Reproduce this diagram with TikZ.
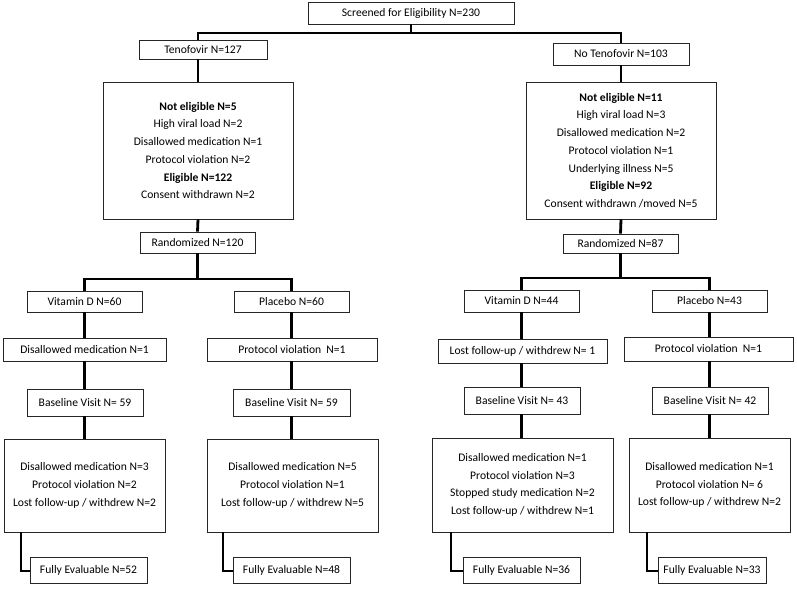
\documentclass[tikz,border=0pt]{standalone}
\usepackage{fontspec}
\setmainfont{Carlito}
\usetikzlibrary{shadows}
\begin{document}
\begin{tikzpicture}[x=1pt,y=-1pt,
  bx/.style={draw=black!85, line width=0.7pt, fill=white, inner sep=0pt, align=center,
    font=\fontsize{11.6}{17.7}\selectfont,
    drop shadow={shadow xshift=1.2pt, shadow yshift=-1.2pt, opacity=0.35, fill=black!50}},
  conn/.style={line width=2.8pt, black, line cap=butt}]
\useasboundingbox (0,0) rectangle (797,589);
% top
\node[bx, minimum width=206, minimum height=22] (scr) at (411,13) {Screened for Eligibility N=230};
\node[bx, minimum width=128, minimum height=19] (ten) at (203,49.5) {Tenofovir N=127};
\node[bx, minimum width=136, minimum height=22] (noten) at (621,54) {No Tenofovir N=103};
\node[bx, minimum width=190, minimum height=137] (bigl) at (198,150.5) {\textbf{Not eligible N=5}\\High viral load N=2\\Disallowed medication N=1\\Protocol violation N=2\\\textbf{Eligible N=122}\\Consent withdrawn N=2};
\node[bx, minimum width=190, minimum height=137] (bigr) at (621,150.5) {\textbf{Not eligible N=11}\\High viral load N=3\\Disallowed medication N=2\\Protocol violation N=1\\Underlying illness N=5\\\textbf{Eligible N=92}\\Consent withdrawn /moved N=5};
\node[bx, minimum width=115, minimum height=21] (randl) at (197.5,242.5) {Randomized N=120};
\node[bx, minimum width=115, minimum height=19] (randr) at (620.5,243.5) {Randomized N=87};
% left arms
\node[bx, minimum width=115, minimum height=21] (vdl) at (84.5,301.5) {Vitamin D N=60};
\node[bx, minimum width=115, minimum height=21] (pll) at (291.5,301.5) {Placebo N=60};
\node[bx, minimum width=163, minimum height=23] (disl) at (84.5,349.5) {Disallowed medication N=1};
\node[bx, minimum width=170, minimum height=23] (pvl) at (292,349.5) {Protocol violation\ \ N=1};
\node[bx, minimum width=116, minimum height=27] (bll) at (85,402.5) {Baseline Visit N= 59};
\node[bx, minimum width=117, minimum height=27] (bll2) at (291.5,402.5) {Baseline Visit N= 59};
\node[bx, minimum width=161, minimum height=93] (botl) at (84.5,485.5) {Disallowed medication N=3\\Protocol violation N=2\\Lost follow-up / withdrew N=2};
\node[bx, minimum width=171, minimum height=93] (botl2) at (292.5,485.5) {Disallowed medication N=5\\Protocol violation N=1\\Lost follow-up / withdrew N=5};
\node[bx, minimum width=117, minimum height=26] (fel) at (88.5,570) {Fully Evaluable N=52};
\node[bx, minimum width=117, minimum height=26] (fel2) at (291.5,570) {Fully Evaluable N=48};
% right arms
\node[bx, minimum width=115, minimum height=22] (vdr) at (521.5,301) {Vitamin D N=44};
\node[bx, minimum width=115, minimum height=22] (plr) at (709.5,301) {Placebo N=43};
\node[bx, minimum width=169, minimum height=24] (lostr) at (522.5,351) {Lost follow-up / withdrew N= 1};
\node[bx, minimum width=169, minimum height=24] (pvr) at (708.5,349) {Protocol violation\ \ N=1};
\node[bx, minimum width=116, minimum height=27] (blr) at (522,400.5) {Baseline Visit N= 43};
\node[bx, minimum width=116, minimum height=27] (blr2) at (710,400.5) {Baseline Visit N= 42};
\node[bx, minimum width=181, minimum height=94] (botr) at (522.5,485) {Disallowed medication N=1\\Protocol violation N=3\\Stopped study medication N=2\\Lost follow-up / withdrew N=1};
\node[bx, minimum width=161, minimum height=94] (botr2) at (709.5,485) {Disallowed medication N=1\\Protocol violation N= 6\\Lost follow-up / withdrew N=2};
\node[bx, minimum width=117, minimum height=26] (fer) at (521.5,570) {Fully Evaluable N=36};
\node[bx, minimum width=108, minimum height=26] (fer2) at (712,570) {Fully Evaluable N=33};
% junction coordinates
\coordinate (jtop) at (411,33);
\coordinate (jl) at (197.5,279);
\coordinate (jr) at (620.5,278);
\coordinate (xl) at (198,0);
\coordinate (cl1) at (21,571);
\coordinate (cl2) at (223,571);
\coordinate (cr1) at (451,571);
\coordinate (cr2) at (647,571);
% connectors
\draw[conn] (scr.south) -- (jtop);
\draw[conn] (ten.north -| xl) |- (jtop) -| (noten.north);
\draw[conn] (ten.south -| xl) -- (bigl.north);
\draw[conn] (bigl.south) -- (randl.north);
\draw[conn] (noten.south) -- (bigr.north);
\draw[conn] (bigr.south) -- (randr.north);
\draw[conn] (randl.south) -- (jl);
\draw[conn] (vdl.north) |- (jl) -| (pll.north);
\draw[conn] (randr.south) -- (jr);
\draw[conn] (vdr.north) |- (jr) -| (plr.north);
\draw[conn] (vdl.south) -- (disl.north -| vdl.south);
\draw[conn] (disl.south -| vdl.south) -- (bll.north -| vdl.south);
\draw[conn] (bll.south -| vdl.south) -- (botl.north -| vdl.south);
\draw[conn] (pll.south) -- (pvl.north -| pll.south);
\draw[conn] (pvl.south -| pll.south) -- (bll2.north -| pll.south);
\draw[conn] (bll2.south -| pll.south) -- (botl2.north -| pll.south);
\draw[conn] (vdr.south) -- (lostr.north -| vdr.south);
\draw[conn] (lostr.south -| vdr.south) -- (blr.north -| vdr.south);
\draw[conn] (blr.south -| vdr.south) -- (botr.north -| vdr.south);
\draw[conn] (plr.south) -- (pvr.north -| plr.south);
\draw[conn] (pvr.south -| plr.south) -- (blr2.north -| plr.south);
\draw[conn] (blr2.south -| plr.south) -- (botr2.north -| plr.south);
\draw[conn] (botl.south -| cl1) -- (cl1) -- (fel.west |- cl1);
\draw[conn] (botl2.south -| cl2) -- (cl2) -- (fel2.west |- cl2);
\draw[conn] (botr.south -| cr1) -- (cr1) -- (fer.west |- cr1);
\draw[conn] (botr2.south -| cr2) -- (cr2) -- (fer2.west |- cr2);
\end{tikzpicture}
\end{document}
